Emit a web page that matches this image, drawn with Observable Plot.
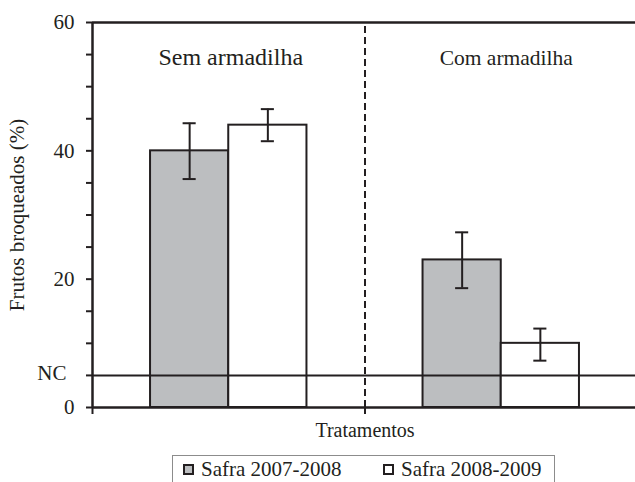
<!DOCTYPE html>
<html>
<head>
<meta charset="utf-8">
<script src="https://cdn.jsdelivr.net/npm/d3@7"></script>
<script src="https://cdn.jsdelivr.net/npm/@observablehq/plot@0.6"></script>
<style>
  html, body { margin: 0; padding: 0; background: #fff; }
  body { width: 635px; height: 482px; overflow: hidden; font-family: "Liberation Serif", "DejaVu Serif", serif; color: #231f20; }
  #legend { position: relative; margin-left: 172px; margin-top: 3px; width: 383px; height: 34px; box-sizing: border-box; border: 1px solid #8c8c8c; }
  .item { position: absolute; top: 1px; font-size: 21px; line-height: 24px; white-space: nowrap; }
  .sw { display: inline-block; width: 11px; height: 11px; box-sizing: border-box; border: 2px solid #231f20; margin-right: 7px; vertical-align: 1px; }
</style>
</head>
<body>
<div id="chart"></div>
<div id="legend"></div>
<script>
// ---- data ----
const groups = ["Sem armadilha", "Com armadilha"];
const series = ["Safra 2007-2008", "Safra 2008-2009"];
const safra0708 = [40, 23];        // mean % per group
const safra0809 = [44, 10];
const safra0708Low = [35.6, 18.6]; // error bar bounds
const safra0708High = [44.3, 27.3];
const safra0809Low = [41.5, 7.3];
const safra0809High = [46.5, 12.3];
const yTickLabels = [0, 20, 40, 60];
const nc = 5;                      // nível de controle

// ---- build table ----
const seriesVals = [safra0708, safra0809];
const seriesLow = [safra0708Low, safra0809Low];
const seriesHigh = [safra0708High, safra0809High];
const rows = [];
groups.forEach((g, gi) => series.forEach((s, si) => {
  rows.push({group: g, series: s, gi, si, value: seriesVals[si][gi], lo: seriesLow[si][gi], hi: seriesHigh[si][gi]});
}));

const barW = 0.287;   // bar width as fraction of a group
const capW = 0.024;   // half width of error caps
const ink = "#231f20";
const left = d => d.gi + 0.5 - (d.si === 0 ? barW : 0);
const center = d => left(d) + barW / 2;

const chart = Plot.plot({
  width: 635,
  height: 452,
  marginLeft: 92,
  marginRight: -2,
  marginTop: 22,
  marginBottom: 45,
  style: {fontFamily: "Liberation Serif, serif", color: ink, background: "white", overflow: "visible"},
  x: {domain: [0, 2]},
  y: {domain: [0, 60]},
  color: {domain: series, range: ["#bcbec0", "#ffffff"]},
  marks: [
    Plot.rect(rows, {x1: left, x2: d => left(d) + barW, y1: 0, y2: "value", fill: "series", stroke: ink, strokeWidth: 2}),
    Plot.ruleY([nc], {stroke: ink, strokeWidth: 2}),
    Plot.ruleY([60], {stroke: ink, strokeWidth: 2.5}),
    Plot.ruleX([1], {y1: 0, y2: 60, stroke: ink, strokeWidth: 2, strokeDasharray: "7,4"}),
    Plot.ruleX(rows, {x: center, y1: "lo", y2: "hi", stroke: ink, strokeWidth: 2}),
    Plot.ruleY(rows, {y: "lo", x1: d => center(d) - capW, x2: d => center(d) + capW, stroke: ink, strokeWidth: 2}),
    Plot.ruleY(rows, {y: "hi", x1: d => center(d) - capW, x2: d => center(d) + capW, stroke: ink, strokeWidth: 2}),
    Plot.axisY({ticks: d3.range(0, 61, 5), tickSize: 6, tickPadding: 12, strokeWidth: 2, fontSize: 21,
      tickFormat: d => yTickLabels.includes(d) ? String(d) : "", label: null}),
    Plot.axisX({ticks: [0, 1, 2], tickSize: 7, strokeWidth: 2, tickFormat: () => "", label: null}),
    Plot.ruleY([0], {stroke: ink, strokeWidth: 2.5}),
    Plot.ruleX([0], {y1: 0, y2: 60, stroke: ink, strokeWidth: 2.5}),
    Plot.text(["NC"], {y: nc, frameAnchor: "left", dx: -26, dy: -2, textAnchor: "end", fontSize: 21, fill: ink}),
    Plot.text(["Frutos broqueados (%)"], {frameAnchor: "left", dx: -75, rotate: -90, textAnchor: "middle", lineAnchor: "middle", fontSize: 21, fill: ink}),
    Plot.text(["Tratamentos"], {frameAnchor: "bottom", dy: 29, fontSize: 20, fill: ink}),
    Plot.text(groups, {x: (d, i) => i + 0.5, dx: 2, frameAnchor: "top", dy: 42, lineAnchor: "bottom",
      fontSize: 24, fill: ink, filter: (d, i) => i === 0}),
    Plot.text(groups, {x: (d, i) => i + 0.5, dx: 5, frameAnchor: "top", dy: 42, lineAnchor: "bottom",
      fontSize: 21.5, fill: ink, filter: (d, i) => i === 1})
  ]
});
document.getElementById("chart").appendChild(chart);

// ---- legend ----
const legend = document.getElementById("legend");
const fills = ["#bcbec0", "#ffffff"];
series.forEach((s, i) => {
  const item = document.createElement("div");
  item.className = "item";
  item.style.left = (i === 0 ? 10 : 210) + "px";
  const sw = document.createElement("span");
  sw.className = "sw";
  sw.style.background = fills[i];
  item.appendChild(sw);
  item.appendChild(document.createTextNode(s));
  legend.appendChild(item);
});
</script>
</body>
</html>
